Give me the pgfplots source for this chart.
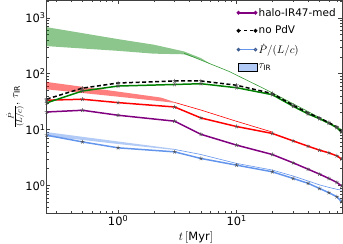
\documentclass[border=0pt]{standalone}
\usepackage{pgfplots}
\pgfplotsset{compat=1.18}
\usepackage{fontspec}
\setmainfont{DejaVu Sans}
\usetikzlibrary{calc}
\definecolor{cpurple}{RGB}{128,0,128}
\definecolor{cgreen}{RGB}{0,128,0}
\definecolor{cred}{RGB}{255,0,0}
\definecolor{cblue}{RGB}{100,149,237}
\pgfplotsset{
  twomark/.style={legend image code/.code={\draw[mark repeat=1,##1] plot coordinates {(0bp,0bp) (17bp,0bp)};}},
  boxleg/.style={legend image code/.code={\fill[##1] (0bp,-4bp) rectangle (19bp,4bp);}},
  thickline/.style={line width=1.5pt, mark=star, mark size=2.1pt, mark options={solid, draw=black!70, line width=0.45pt}},
}
\begin{document}
\begin{tikzpicture}
\begin{axis}[name=ax,
  xmode=log, ymode=log, scale only axis, width=295bp, height=212.5bp,
  xmin=0.25, xmax=77, ymin=0.32, ymax=2040,
  xtick={1,10}, xticklabels={10\textsuperscript{0},10\textsuperscript{1}},
  ytick={1,10,100,1000}, yticklabels={10\textsuperscript{0},10\textsuperscript{1},10\textsuperscript{2},10\textsuperscript{3}},
  minor xtick={0.3,0.4,0.5,0.6,0.7,0.8,0.9,2,3,4,5,6,7,8,9,20,30,40,50,60,70},
  minor ytick={0.4,0.5,0.6,0.7,0.8,0.9,2,3,4,5,6,7,8,9,20,30,40,50,60,70,80,90,200,300,400,500,600,700,800,900,2000},
  major tick length=3.5bp, minor tick length=2bp,
  tick label style={font=\fontsize{11.5}{13}\selectfont},
  yticklabel style={inner xsep=1pt},
  xticklabel style={inner ysep=2pt},
  axis line style={black!75}, every tick/.style={black!75},
  xlabel={\fontsize{11.5}{13}\selectfont$t\,[\mathrm{Myr}]$},
  xlabel style={at={(axis description cs:0.506,-0.113)}, anchor=center},
  ylabel={\fontsize{11}{13}\selectfont$\frac{\dot{P}}{(L/c)},\,\tau_{\mathrm{IR}}$},
  ylabel style={at={(axis description cs:-0.107,0.5)}, anchor=center},
  legend style={at={(axis description cs:0.645,0.97)}, anchor=north west, draw=none, fill=none,
    font=\fontsize{10.5}{12}\selectfont, row sep=6.5pt, inner sep=0pt, nodes={inner sep=1pt}},
  legend cell align=left,
  clip=true,
]
\addlegendimage{cpurple, line width=1.5pt, mark=*, mark size=1.1pt, twomark}
\addlegendentry{halo-IR47-med}
\addlegendimage{black, line width=1.5pt, dashed, mark=*, mark size=1.1pt, mark options={solid}, twomark}
\addlegendentry{no PdV}
\addlegendimage{cblue, line width=1pt, mark=o, mark size=1.3pt, mark options={draw=cblue!60!black}, twomark}
\addlegendentry{$\dot{P}/(L/c)$}
\addlegendimage{fill=cblue, fill opacity=0.5, boxleg}
\addlegendentry{$\tau_{\mathrm{IR}}$}

% bands
\addplot[forget plot, draw=none, fill=cgreen, fill opacity=0.45] coordinates {
 (0.25,680)(1,415)(2,330)(3.6,250)(5,190)(6,150)
 (6,148)(5,178)(3.6,222)(2,228)(1,256)(0.25,311)} -- cycle;
\addplot[forget plot, draw=none, fill=cred, fill opacity=0.5] coordinates {
 (0.25,71)(1,47.7)(2.3,37.3)(3,31)
 (3,30)(2.3,32)(1,38.7)(0.25,52.4)} -- cycle;
\addplot[forget plot, draw=none, fill=cblue, fill opacity=0.5] coordinates {
 (0.25,9.0)(0.5,7.4)(1,6.1)(3,4.5)
 (3,4.3)(1,5.5)(0.5,6.5)(0.25,7.5)} -- cycle;

% thin lines
\addplot[forget plot, cgreen!80!white, line width=0.6pt] coordinates {
 (3.6,232)(8.6,110)(18.2,50.3)(40,21)(77,10)};
\addplot[forget plot, cred, line width=0.6pt] coordinates {
 (3,30.5)(5,22.3)(10,14)(20,9.0)};
\addplot[forget plot, cblue, line width=0.6pt] coordinates {
 (3,4.4)(5,3.57)(10,2.47)(20,1.88)(30,1.47)(40,1.2)(50,1.02)(60,0.92)(70,0.85)(77,0.82)};

% thick lines
\addplot[forget plot, cblue, thickline] coordinates {
 (0.25,7.9)(0.5,6.0)(1,4.7)(3,3.98)(5,3.03)(10,2.3)(20,1.75)(30,1.33)(40,1.09)(50,0.88)(60,0.74)(70,0.625)(77,0.51)};
\addplot[forget plot, cpurple, thickline] coordinates {
 (0.25,20.6)(0.5,22.1)(1,18)(3,14.1)(5,8.2)(10,5.25)(20,3.57)(30,2.53)(40,1.95)(50,1.59)(60,1.33)(70,1.13)(77,0.97)};
\addplot[forget plot, cred, thickline] coordinates {
 (0.25,33.5)(0.5,34.8)(1,30.3)(3,25.3)(5,16.1)(10,11.3)(20,8.5)(30,6.25)(40,5.03)(50,4.27)(60,3.82)(70,3.38)(77,2.95)};
\addplot[forget plot, cgreen, thickline] coordinates {
 (0.25,30)(0.5,48.9)(1,60)(3,64)(5,66)(10,56)(20,42)(30,26)(40,19)(50,15.6)(60,12.9)(70,10.8)(77,8.9)};
\addplot[forget plot, black, thickline, dash pattern=on 4bp off 2.5bp] coordinates {
 (0.25,35)(0.5,55)(1,68)(3,74)(5,74)(10,62)(20,44)(30,27.2)(40,19.8)(50,16.1)(60,13.3)(70,11.1)(77,9.1)};
\end{axis}
\pgfresetboundingbox
\path ($(ax.south west)+(-46.7bp,-31bp)$) rectangle ($(ax.north east)+(1.3bp,0.5bp)$);
\end{tikzpicture}
\end{document}
